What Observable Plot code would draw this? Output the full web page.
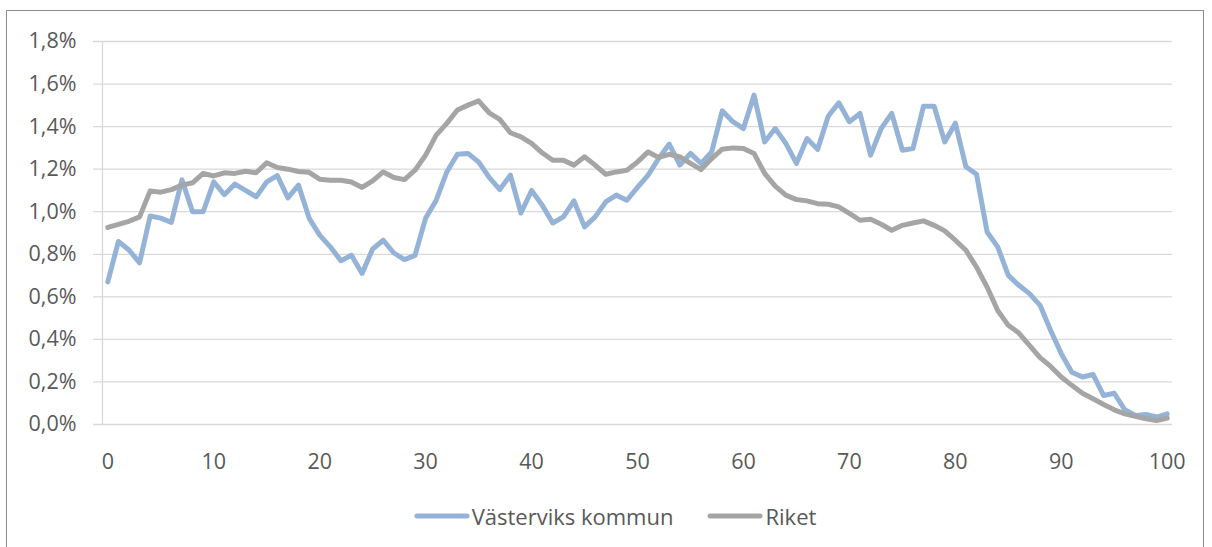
<!DOCTYPE html>
<html>
<head>
<meta charset="utf-8">
<script src="https://cdn.jsdelivr.net/npm/d3@7"></script>
<script src="https://cdn.jsdelivr.net/npm/@observablehq/plot@0.6"></script>
<style>
  html, body { margin: 0; padding: 0; background: #fff; }
  #wrap { position: relative; width: 1212px; height: 547px; overflow: hidden; font-family: "Open Sans", sans-serif; }
  #frame { position: absolute; left: 6px; top: 10px; width: 1198px; height: 560px; border: 1.5px solid #8c8c8c; box-sizing: border-box; }
  #chart { position: absolute; left: 0; top: 0; }
  #legend { position: absolute; top: 501px; left: 0; width: 1212px; height: 30px; display: flex; justify-content: center; align-items: center; font-size: 22px; color: #595959; padding-left: 18px; box-sizing: border-box; }
  #legend .item { display: flex; align-items: center; margin: 0 17px; }
  #legend svg { margin-right: 2px; }
</style>
</head>
<body>
<div id="wrap">
  <div id="frame"></div>
  <div id="chart"></div>
  <div id="legend"></div>
</div>
<script>
// Age 0..100
const ages = d3.range(0, 101);

// Share of population per age (%), Västerviks kommun
const vastervik = [
  0.67, 0.86, 0.82, 0.76, 0.98, 0.97, 0.95, 1.15, 1.00, 1.00,
  1.14, 1.08, 1.13, 1.10, 1.07, 1.14, 1.17, 1.065, 1.125, 0.97,
  0.89, 0.835, 0.77, 0.795, 0.71, 0.825, 0.866, 0.806, 0.775, 0.795,
  0.97, 1.054, 1.187, 1.27, 1.274, 1.234, 1.161, 1.104, 1.172, 0.994,
  1.10, 1.031, 0.947, 0.976, 1.051, 0.929, 0.976, 1.046, 1.078, 1.054,
  1.114, 1.172, 1.25, 1.318, 1.219, 1.274, 1.227, 1.281, 1.474, 1.423,
  1.391, 1.548, 1.328, 1.391, 1.321, 1.227, 1.344, 1.293, 1.449, 1.512,
  1.423, 1.462, 1.266, 1.391, 1.462, 1.289, 1.297, 1.496, 1.496, 1.328,
  1.416, 1.211, 1.176, 0.905, 0.835, 0.701, 0.654, 0.615, 0.56, 0.442,
  0.333, 0.246, 0.223, 0.235, 0.136, 0.147, 0.069, 0.042, 0.047, 0.035,
  0.05
];

// Share of population per age (%), Riket
const riket = [
  0.926, 0.941, 0.955, 0.976, 1.098, 1.092, 1.104, 1.125, 1.136, 1.18,
  1.168, 1.183, 1.18, 1.19, 1.183, 1.23, 1.208, 1.20, 1.189, 1.185,
  1.153, 1.148, 1.148, 1.14, 1.114, 1.145, 1.187, 1.161, 1.151, 1.195,
  1.266, 1.36, 1.415, 1.478, 1.501, 1.521, 1.465, 1.434, 1.371, 1.352,
  1.321, 1.277, 1.242, 1.242, 1.219, 1.258, 1.219, 1.176, 1.187, 1.195,
  1.234, 1.281, 1.255, 1.27, 1.258, 1.227, 1.198, 1.25, 1.294, 1.30,
  1.297, 1.274, 1.18, 1.12, 1.078, 1.057, 1.051, 1.038, 1.035, 1.023,
  0.992, 0.96, 0.965, 0.941, 0.913, 0.936, 0.947, 0.957, 0.936, 0.91,
  0.866, 0.819, 0.74, 0.646, 0.536, 0.466, 0.43, 0.372, 0.314, 0.273,
  0.223, 0.184, 0.147, 0.121, 0.094, 0.069, 0.05, 0.038, 0.027, 0.019,
  0.03
];

const seriesNames = ["Västerviks kommun", "Riket"];
const seriesColors = ["#95b3d7", "#a5a5a5"];
const yTicks = [0, 0.2, 0.4, 0.6, 0.8, 1.0, 1.2, 1.4, 1.6, 1.8];
const xTicks = [0, 10, 20, 30, 40, 50, 60, 70, 80, 90, 100];

const rows = [];
ages.forEach((a, i) => {
  rows.push({age: a, value: vastervik[i], series: seriesNames[0]});
});
ages.forEach((a, i) => {
  rows.push({age: a, value: riket[i], series: seriesNames[1]});
});

const fmt = d => d.toFixed(1).replace(".", ",") + "%";

const chart = Plot.plot({
  width: 1212,
  height: 480,
  marginLeft: 102,
  marginRight: 40,
  marginTop: 41,
  marginBottom: 56,
  style: {fontFamily: "'Open Sans', sans-serif", fontSize: "21.5px", color: "#595959", background: "transparent"},
  x: {domain: [-0.5, 100.5], ticks: xTicks, tickFormat: d => String(d)},
  y: {domain: [0, 1.8], ticks: yTicks, tickFormat: fmt},
  color: {domain: seriesNames, range: seriesColors},
  marks: [
    Plot.ruleY(yTicks, {stroke: "#d9d9d9", strokeWidth: 1.3, insetLeft: -9}),
    Plot.ruleX([-0.5], {stroke: "#d9d9d9", strokeWidth: 1.3}),
    Plot.axisY({ticks: yTicks, tickFormat: fmt, tickSize: 0, tickPadding: 26, fill: "#595959", label: null}),
    Plot.axisX({ticks: xTicks, tickSize: 0, tickPadding: 29, fill: "#595959", label: null}),
    Plot.lineY(rows, {x: "age", y: "value", stroke: "series", z: "series", strokeWidth: 5, strokeLinejoin: "round", strokeLinecap: "round"})
  ]
});
document.getElementById("chart").appendChild(chart);

const legend = document.getElementById("legend");
seriesNames.forEach((name, i) => {
  const item = document.createElement("div");
  item.className = "item";
  item.innerHTML = `<svg width="56" height="10"><line x1="3" y1="5" x2="53" y2="5" stroke="${seriesColors[i]}" stroke-width="5" stroke-linecap="round"/></svg><span>${name}</span>`;
  legend.appendChild(item);
});
</script>
</body>
</html>
